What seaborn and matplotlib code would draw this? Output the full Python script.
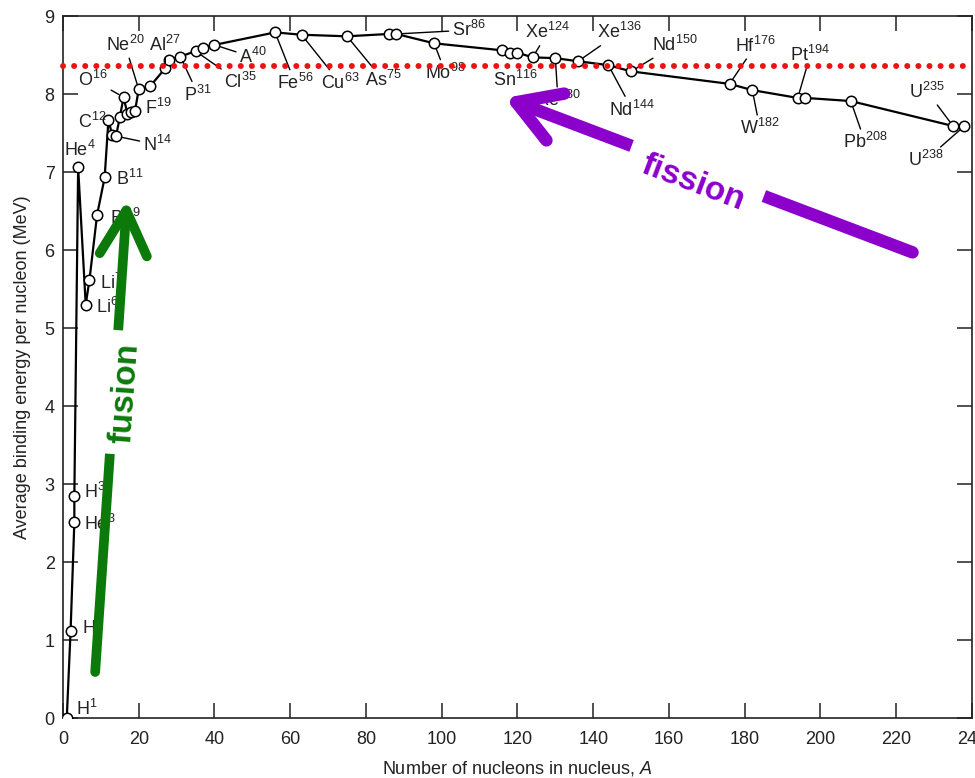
import matplotlib
matplotlib.use("Agg")
from matplotlib import pyplot as plt
import seaborn as sns

# mass number A and average binding energy per nucleon (MeV)
mass_number = [1, 2, 3, 3, 4, 6, 7, 9, 11, 12, 13, 14, 15, 16, 17, 18, 19, 20, 23,
               27, 28, 31, 35, 37, 40, 56, 63, 75, 86, 88, 98, 116, 118, 120,
               124, 130, 136, 144, 150, 176, 182, 194, 196, 208, 235, 238]
binding_energy = [0.0, 1.11, 2.51, 2.85, 7.06, 5.30, 5.62, 6.45, 6.93, 7.67, 7.47, 7.46, 7.70,
                  7.96, 7.75, 7.77, 7.78, 8.06, 8.10,
                  8.33, 8.44, 8.48, 8.55, 8.59, 8.63, 8.79, 8.76, 8.74, 8.77, 8.77, 8.65,
                  8.56, 8.53, 8.53,
                  8.47, 8.46, 8.42, 8.37, 8.29, 8.13, 8.05, 7.95, 7.95, 7.91, 7.59, 7.59]

# isotope labels and the index of the point each one names
isotope_labels = ['H$^1$', 'H$^2$', 'He$^3$', 'H$^3$', 'He$^4$', 'Li$^6$', 'Li$^7$', 'Be$^9$',
                  'B$^{11}$', 'C$^{12}$', 'N$^{14}$', 'O$^{16}$', 'F$^{19}$', 'Ne$^{20}$',
                  'Al$^{27}$', 'P$^{31}$', 'Cl$^{35}$', 'A$^{40}$', 'Fe$^{56}$', 'Cu$^{63}$',
                  'As$^{75}$', 'Sr$^{86}$', 'Mo$^{98}$', 'Sn$^{116}$', 'Xe$^{124}$',
                  'Xe$^{130}$', 'Xe$^{136}$', 'Nd$^{144}$', 'Nd$^{150}$', 'Hf$^{176}$',
                  'W$^{182}$', 'Pt$^{194}$', 'Pb$^{208}$', 'U$^{235}$', 'U$^{238}$']
label_point = [0, 1, 2, 3, 4, 5, 6, 7, 8, 9, 11, 13, 16, 17, 19, 21, 22, 24, 25, 26,
               27, 29, 30, 31, 34, 35, 36, 37, 38, 39, 40, 41, 43, 44, 45]

# where each label sits: (x, y, ha, draw leader line)
label_layout = [
    (3.5, 0.12, 'left', False), (5.0, 1.15, 'left', False), (5.5, 2.49, 'left', False),
    (5.5, 2.90, 'left', False), (4.5, 7.28, 'center', False), (8.7, 5.27, 'left', False),
    (9.8, 5.58, 'left', False), (12.4, 6.41, 'left', False), (14.0, 6.91, 'left', False),
    (11.4, 7.64, 'right', False), (21.1, 7.35, 'left', True), (4.0, 8.18, 'left', True),
    (21.7, 7.82, 'left', False), (16.4, 8.63, 'center', True), (27.0, 8.63, 'center', True),
    (35.7, 7.99, 'center', True), (46.8, 8.15, 'center', True), (50.2, 8.47, 'center', True),
    (61.3, 8.14, 'center', True), (73.2, 8.14, 'center', True), (84.5, 8.18, 'center', True),
    (102.7, 8.82, 'left', True), (101.0, 8.27, 'center', True), (119.4, 8.18, 'center', False),
    (128.0, 8.79, 'center', True), (130.7, 7.92, 'center', True), (147.0, 8.79, 'center', True),
    (150.3, 7.80, 'center', True), (161.6, 8.63, 'center', True), (182.8, 8.62, 'center', True),
    (184.0, 7.56, 'center', True), (197.3, 8.50, 'center', True), (211.8, 7.38, 'center', True),
    (228.2, 8.03, 'center', True), (227.7, 7.15, 'center', True),
]

iron_level = 8.36
x_ticks = list(range(0, 241, 20))
y_ticks = list(range(0, 10))

sns.set_style("ticks")
plt.rcParams['font.family'] = ['Liberation Sans', 'DejaVu Sans']
plt.rcParams['mathtext.fontset'] = 'custom'
plt.rcParams['mathtext.rm'] = 'Liberation Sans'
plt.rcParams['mathtext.it'] = 'Liberation Sans:italic'
plt.rcParams['mathtext.default'] = 'regular'

fig = plt.figure(figsize=(9.75, 7.78), dpi=100)
ax = fig.add_axes([0.0646, 0.0771, 0.9323, 0.9023])

sns.lineplot(x=mass_number, y=binding_energy, sort=False, estimator=None, ax=ax,
             color='black', lw=1.6, marker='o', markersize=7.5,
             markerfacecolor='white', markeredgecolor='black', markeredgewidth=1.1,
             zorder=3)

for text, idx, (tx, ty, ha, leader) in zip(isotope_labels, label_point, label_layout):
    px, py = mass_number[idx], binding_energy[idx]
    arrow = dict(arrowstyle='-', color='black', lw=1.0, shrinkA=0, shrinkB=4) if leader else None
    ax.annotate(text, xy=(px, py), xytext=(tx, ty), ha=ha, va='center',
                fontsize=13, color='#222222', arrowprops=arrow, zorder=4)

ax.axhline(iron_level, color='#ee1111', lw=4.3, ls=(0, (0.01, 1.85)),
           dash_capstyle='round', clip_on=False, zorder=5)

green = '#0b7a0b'
purple = '#8c00cc'
ax.annotate('', xy=(16.9, 6.64), xytext=(8.5, 0.59),
            arrowprops=dict(arrowstyle='->,head_length=1.6,head_width=0.85', color=green,
                            lw=7, mutation_scale=20, shrinkA=0, shrinkB=0), zorder=6)
ax.text(16.4, 4.17, 'fusion', color=green, fontsize=24, fontweight='bold', rotation=86,
        ha='center', va='center', rotation_mode='anchor', zorder=7,
        bbox=dict(boxstyle='square,pad=0.35', fc='white', ec='none'))
ax.annotate('', xy=(116.7, 7.95), xytext=(224.3, 5.97),
            arrowprops=dict(arrowstyle='->,head_length=1.5,head_width=0.9', color=purple,
                            lw=9, mutation_scale=20, shrinkA=0, shrinkB=0), zorder=6)
ax.text(166.4, 6.86, 'fission', color=purple, fontsize=24, fontweight='bold', rotation=-20.7,
        ha='center', va='center', rotation_mode='anchor', zorder=7,
        bbox=dict(boxstyle='square,pad=0.5', fc='white', ec='none'))

ax.set_xlim(0, 240)
ax.set_ylim(0, 9)
ax.set_xticks(x_ticks)
ax.set_yticks(y_ticks)
ax.tick_params(direction='in', length=11, width=1.1, top=True, right=True,
               labelsize=13, colors='#222222')
ax.tick_params(axis='x', pad=9)
ax.tick_params(axis='y', pad=6)
for side in ax.spines.values():
    side.set_linewidth(1.2)
    side.set_color('#222222')

ax.set_xlabel('Number of nucleons in nucleus, $\\mathit{A}$', fontsize=13, color='#222222')
ax.set_ylabel('Average binding energy per nucleon (MeV)', fontsize=13, color='#222222')
ax.xaxis.set_label_coords(0.5, -0.058)
ax.yaxis.set_label_coords(-0.035, 0.5)

fig.savefig('out.png', dpi=100)
